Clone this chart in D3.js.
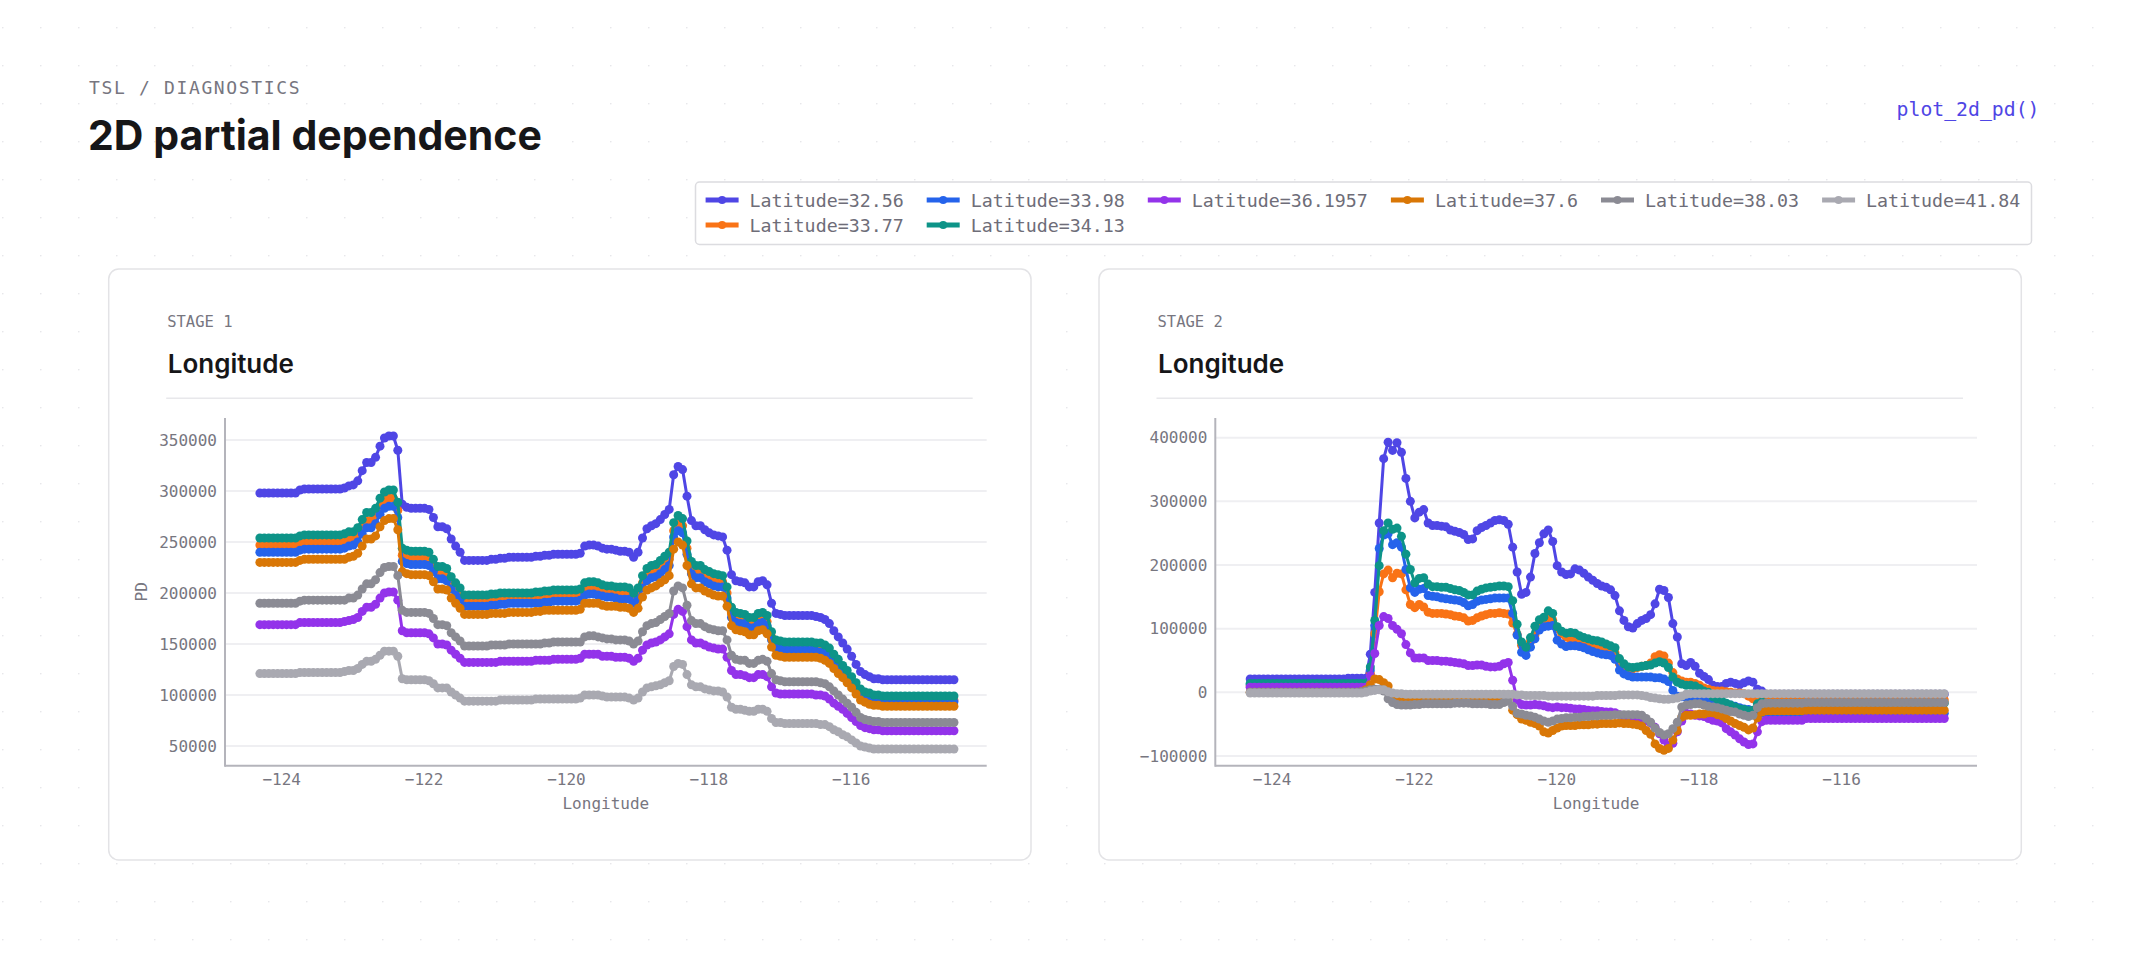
<!DOCTYPE html>
<html><head><meta charset="utf-8">
<script src="https://cdn.jsdelivr.net/npm/d3@7"></script>
<style>html,body{margin:0;padding:0;background:#fff;}svg{display:block;}</style>
</head><body>
<svg id="chart" width="2130" height="959"></svg>
<script>
// ---------------- DATA ----------------
const longitude = [-124.3,-124.2375,-124.175,-124.1125,-124.05,-123.9875,-123.925,-123.8625,-123.8,-123.7375,
-123.675,-123.6125,-123.55,-123.4875,-123.425,-123.3625,-123.3,-123.2375,-123.175,-123.1125,
-123.05,-122.9875,-122.925,-122.8625,-122.8,-122.7375,-122.675,-122.6125,-122.55,-122.4875,
-122.425,-122.3625,-122.3,-122.2375,-122.175,-122.1125,-122.05,-121.9875,-121.925,-121.8625,
-121.8,-121.7375,-121.675,-121.6125,-121.55,-121.4875,-121.425,-121.3625,-121.3,-121.2375,
-121.175,-121.1125,-121.05,-120.9875,-120.925,-120.8625,-120.8,-120.7375,-120.675,-120.6125,
-120.55,-120.4875,-120.425,-120.3625,-120.3,-120.2375,-120.175,-120.1125,-120.05,-119.9875,
-119.925,-119.8625,-119.8,-119.7375,-119.675,-119.6125,-119.55,-119.4875,-119.425,-119.3625,
-119.3,-119.2375,-119.175,-119.1125,-119.05,-118.9875,-118.925,-118.8625,-118.8,-118.7375,
-118.675,-118.6125,-118.55,-118.4875,-118.425,-118.3625,-118.3,-118.2375,-118.175,-118.1125,
-118.05,-117.9875,-117.925,-117.8625,-117.8,-117.7375,-117.675,-117.6125,-117.55,-117.4875,
-117.425,-117.3625,-117.3,-117.2375,-117.175,-117.1125,-117.05,-116.9875,-116.925,-116.8625,
-116.8,-116.7375,-116.675,-116.6125,-116.55,-116.4875,-116.425,-116.3625,-116.3,-116.2375,
-116.175,-116.1125,-116.05,-115.9875,-115.925,-115.8625,-115.8,-115.7375,-115.675,-115.6125,
-115.55,-115.4875,-115.425,-115.3625,-115.3,-115.2375,-115.175,-115.1125,-115.05,-114.9875,
-114.925,-114.8625,-114.8,-114.7375,-114.675,-114.6125,-114.55];

const latitudes = ["32.56","33.77","33.98","34.13","36.1957","37.6","38.03","41.84"];
const stageLabels = ["STAGE 1","STAGE 2"];
const xTicks = [-124,-122,-120,-118,-116];
const yTicksStage1 = [50000,100000,150000,200000,250000,300000,350000];
const yTicksStage2 = [-100000,0,100000,200000,300000,400000];
const legendRows = [["32.56","33.98","36.1957","37.6","38.03","41.84"],["33.77","34.13"]];
const PD_UNIT = 1000; // PD values below are given in thousands

// Stage 1 PD (thousands) per latitude
const s1_lat32_56 = [298,298,298,298,298,298,298,298,298,301,
302,302,302,302,302,302,302,302,302,303,
305,306,310,320,328,328,333,344,352,354,
354,340,287,284,283,283,283,283,282,274,
265,265,263,253,246,240,232,232,232,232,
232,232,233,233,234,234,235,235,235,235,
235,235,236,236,237,237,238,238,238,238,
238,238,239,246,247,247,246,244,243,243,
242,241,241,240,235,240,254,263,266,268,
272,277,282,316,324,321,295,271,266,266,
262,259,257,256,255,242,218,212,211,210,
206,206,211,212,208,190,180,179,178,178,
178,178,178,178,178,177,176,174,170,163,
157,151,145,138,130,123,120,118,116,116,
115,115,115,115,115,115,115,115,115,115,
115,115,115,115,115,115,115];
const s1_lat33_77 = [247,247,247,247,247,247,247,247,247,249,
250,250,250,250,250,250,250,250,250,251,
252,253,256,265,271,271,276,285,291,293,
293,281,237,235,234,234,234,234,233,227,
219,219,218,209,203,199,192,192,192,192,
192,192,193,193,194,194,194,194,194,194,
194,194,195,195,196,196,197,197,197,197,
197,197,198,203,204,204,203,202,201,201,
200,199,199,199,194,199,210,218,220,222,
225,229,233,261,268,266,244,224,220,220,
217,214,213,212,211,200,180,175,175,174,
170,170,175,175,172,157,149,148,147,147,
147,147,147,147,147,146,146,144,141,135,
130,125,120,114,107,102,99,97,96,96,
95,95,95,95,95,95,95,95,95,95,
95,95,95,95,95,95,95];
const s1_lat33_98 = [240,240,240,240,240,240,240,240,240,242,
243,243,243,243,243,243,243,243,243,244,
246,247,250,258,264,264,268,277,283,285,
285,274,231,229,228,228,228,228,227,221,
214,214,212,204,198,194,187,187,187,187,
187,187,188,188,189,189,190,190,190,190,
190,190,190,190,191,191,192,192,192,192,
192,192,193,198,199,199,198,197,196,196,
195,194,194,194,190,194,205,212,215,216,
219,223,227,255,261,259,238,219,215,215,
211,209,207,206,206,195,176,171,170,170,
166,166,170,171,168,154,146,145,144,144,
144,144,144,144,144,143,142,141,138,132,
127,122,118,112,106,100,98,96,94,94,
93.5,93.5,93.5,93.5,93.5,93.5,93.5,93.5,93.5,93.5,
93.5,93.5,93.5,93.5,93.5,93.5,93.5];
const s1_lat34_13 = [254,254,254,254,254,254,254,254,254,256,
257,257,257,257,257,257,257,257,257,258,
260,260,264,272,279,279,283,293,299,301,
301,289,244,242,241,241,241,241,240,233,
226,226,224,216,210,205,198,198,198,198,
198,198,199,199,200,200,200,200,200,200,
200,200,201,201,202,202,203,203,203,203,
203,203,204,210,211,211,210,208,207,207,
206,206,206,205,200,205,217,224,227,228,
232,236,240,269,276,273,251,231,227,227,
223,221,219,218,217,206,186,181,180,179,
176,176,180,181,178,162,154,153,152,152,
152,152,152,152,152,151,151,149,146,140,
135,129,124,118,112,106,103,102,100,100,
99,99,99,99,99,99,99,99,99,99,
99,99,99,99,99,99,99];
const s1_lat36_1957 = [169,169,169,169,169,169,169,169,169,171,
171,171,171,171,171,171,171,171,171,172,
173,174,176,182,186,186,189,195,200,201,
201,193,163,161,161,161,161,161,160,156,
150,150,149,144,140,136,132,132,132,132,
132,132,132,132,133,133,133,133,133,133,
133,133,134,134,134,134,135,135,135,135,
135,135,136,140,140,140,140,138,138,138,
137,137,137,136,133,136,144,149,151,152,
154,157,160,179,184,182,167,154,151,151,
149,147,146,145,145,137,124,120,120,119,
117,117,120,120,118,108,102,101,101,101,
101,101,101,101,101,100,100,99,96,92,
89,86,82,78,74,70,68,67,66,66,
65,65,65,65,65,65,65,65,65,65,
65,65,65,65,65,65,65];
const s1_lat37_6 = [230,230,230,230,230,230,230,230,230,232,
233,233,233,233,233,233,233,233,233,233,
235,236,239,246,253,253,256,265,271,273,
273,262,221,219,218,218,218,218,217,211,
204,204,203,195,190,185,179,179,179,179,
179,179,180,180,180,180,181,181,181,181,
181,181,182,182,183,183,183,183,183,183,
183,183,184,190,190,190,190,188,187,187,
187,186,186,185,181,185,196,203,205,207,
210,213,217,243,250,247,227,209,205,205,
202,200,198,197,197,187,168,164,163,162,
159,159,163,164,160,147,139,138,137,137,
137,137,137,137,137,137,136,134,131,126,
121,117,112,107,101,95,93,91,90,90,
89,89,89,89,89,89,89,89,89,89,
89,89,89,89,89,89,89];
const s1_lat38_03 = [190,190,190,190,190,190,190,190,190,192,
193,193,193,193,193,193,193,193,193,193,
195,195,198,204,209,209,213,220,225,226,
226,217,183,181,181,181,181,181,180,175,
169,169,168,161,157,153,148,148,148,148,
148,148,149,149,149,149,150,150,150,150,
150,150,150,150,151,151,152,152,152,152,
152,152,152,157,158,158,157,156,155,155,
154,154,154,153,150,153,162,168,170,171,
174,177,180,202,207,205,188,173,170,170,
167,165,164,163,163,154,139,135,134,134,
131,131,134,135,133,121,115,114,113,113,
113,113,113,113,113,113,112,111,108,104,
100,96,92,88,83,78,76,75,74,74,
73,73,73,73,73,73,73,73,73,73,
73,73,73,73,73,73,73];
const s1_lat41_84 = [121,121,121,121,121,121,121,121,121,122,
122,122,122,122,122,122,122,122,122,123,
124,124,126,130,133,133,135,139,143,143,
143,138,116,115,115,115,115,115,114,111,
107,107,107,103,100,97,94,94,94,94,
94,94,94,94,95,95,95,95,95,95,
95,95,96,96,96,96,96,96,96,96,
96,96,97,100,100,100,100,99,98,98,
98,98,98,97,95,97,103,107,108,109,
110,112,114,128,131,130,120,110,108,108,
106,105,104,104,103,98,88,86,86,85,
84,84,86,86,84,77,73,73,72,72,
72,72,72,72,72,72,71,71,69,66,
64,61,59,56,53,50,49,48,47,47,
47,47,47,47,47,47,47,47,47,47,
47,47,47,47,47,47,47];

// Stage 2 PD (thousands) per latitude
const s2_lat32_56 = [21,21,21,21,21,21,21,21,21,21,
21,21,21,21,21,21,21,21,21,21,
21,21,22,22,22,22,22,60,157,266,
367,393,380,392,377,336,300,274,283,287,
266,262,262,261,260,255,253,251,248,240,
241,254,259,262,266,270,271,270,264,228,
189,154,157,181,218,235,249,255,237,199,
189,185,186,194,192,187,181,176,171,167,
165,161,152,128,113,103,101,108,113,116,
122,139,162,160,149,108,87,45,42,47,
41,30,25,20,11,9,9,14,16,14,
12,15,18,16,5,2,-3,-3,-3,-3,
-3,-3,-3,-3,-3,-3,-3,-3,-3,-3,
-3,-3,-3,-3,-3,-3,-3,-3,-3,-3,
-3,-3,-3,-3,-3,-3,-3,-3,-3,-3,
-3,-3,-3,-3,-3,-3,-3];
const s2_lat33_77 = [10,10,10,10,10,10,10,10,10,10,
10,10,10,10,10,10,10,10,10,10,
10,10,10,10,10,10,10,30,92,158,
186,192,180,187,186,161,138,133,138,134,
126,124,124,124,123,122,120,119,117,112,
113,117,120,122,124,124,125,124,123,109,
91,74,70,80,90,105,112,115,113,100,
92,87,83,81,80,78,74,72,72,70,
68,65,62,45,40,37,37,39,41,42,
46,56,59,57,46,31,21,18,16,16,
14,11,7,5,3,2,2,1,0,-1,
-1,-2,-6,-10,-13,-12,-12,-12,-12,-12,
-12,-12,-12,-12,-12,-12,-12,-12,-12,-12,
-12,-12,-12,-12,-12,-12,-12,-12,-12,-12,
-12,-12,-12,-12,-12,-12,-12,-12,-12,-12,
-12,-12,-12,-12,-12,-12,-12];
const s2_lat33_98 = [12,12,12,12,12,12,12,12,12,12,
12,12,12,12,12,12,12,12,12,12,
12,12,12,12,12,12,12,35,105,226,
247,249,232,235,228,193,164,157,162,163,
152,151,150,148,147,146,145,144,141,136,
138,143,145,146,147,148,148,148,148,124,
90,63,58,71,84,98,103,104,105,82,
76,72,73,73,72,70,67,64,62,60,
59,58,52,35,29,26,24,24,24,24,
24,23,23,21,17,3,-6,-7,-8,-9,
-10,-11,-12,-13,-14,-15,-16,-18,-20,-22,
-24,-26,-27,-30,-33,-33,-33,-33,-33,-33,
-33,-33,-33,-33,-33,-33,-33,-33,-33,-33,
-33,-33,-33,-33,-33,-33,-33,-33,-33,-33,
-33,-33,-33,-33,-33,-33,-33,-33,-33,-33,
-33,-33,-33,-33,-33,-33,-33];
const s2_lat34_13 = [14,14,14,14,14,14,14,14,14,14,
14,14,14,14,14,14,14,14,14,14,
14,14,14,14,14,14,14,40,113,199,
254,266,256,258,245,217,193,172,179,180,
170,166,166,165,165,163,161,160,157,153,
153,159,162,164,165,166,167,167,166,144,
107,79,71,86,104,114,118,128,124,103,
96,93,94,93,89,86,84,82,81,79,
76,73,70,53,45,40,39,40,41,42,
43,46,48,46,39,24,16,13,11,11,
10,6,2,0,-7,-11,-13,-17,-20,-23,
-26,-27,-29,-28,-18,-15,-17,-17,-17,-17,
-17,-17,-17,-17,-17,-17,-17,-17,-17,-17,
-17,-17,-17,-17,-17,-17,-17,-17,-17,-17,
-17,-17,-17,-17,-17,-17,-17,-17,-17,-17,
-17,-17,-17,-17,-17,-17,-17];
const s2_lat36_1957 = [8,8,8,8,8,8,8,8,8,8,
8,8,8,8,8,8,8,8,8,8,
8,8,8,8,8,8,8,26,61,105,
119,116,105,99,92,75,62,54,54,54,
50,50,50,49,49,48,47,46,45,42,
42,43,43,41,40,40,41,45,47,19,
-12,-19,-20,-20,-19,-20,-21,-23,-24,-23,
-24,-24,-25,-26,-26,-27,-28,-29,-29,-30,
-31,-31,-32,-35,-39,-40,-41,-42,-44,-45,
-48,-55,-65,-75,-83,-80,-62,-45,-33,-34,
-36,-37,-38,-41,-44,-45,-48,-57,-62,-67,
-73,-78,-82,-81,-62,-46,-44,-44,-44,-44,
-44,-44,-44,-44,-44,-41,-41,-41,-41,-41,
-41,-41,-41,-41,-41,-41,-41,-41,-41,-41,
-41,-41,-41,-41,-41,-41,-41,-41,-41,-41,
-41,-41,-41,-41,-41,-41,-41];
const s2_lat37_6 = [0,0,0,0,0,0,0,0,0,0,
0,0,0,0,0,0,0,0,0,0,
0,0,0,0,0,1,4,12,21,20,
15,10,-6,-9,-10,-11,-11,-11,-11,-11,
-11,-11,-11,-11,-11,-11,-11,-11,-11,-11,
-11,-11,-11,-11,-11,-11,-11,-11,-10,-28,
-35,-42,-44,-47,-49,-53,-62,-64,-60,-56,
-53,-52,-52,-52,-51,-51,-51,-50,-50,-49,
-49,-49,-49,-48,-49,-49,-50,-51,-53,-60,
-66,-81,-88,-91,-88,-75,-60,-39,-36,-36,
-35,-34,-34,-32,-32,-35,-37,-41,-45,-49,
-52,-55,-59,-56,-40,-31,-29,-29,-29,-29,
-29,-29,-29,-29,-29,-28,-28,-28,-28,-28,
-28,-28,-28,-28,-28,-28,-28,-28,-28,-28,
-28,-28,-28,-28,-28,-28,-28,-28,-28,-28,
-28,-28,-28,-28,-28,-28,-28];
const s2_lat38_03 = [0,0,0,0,0,0,0,0,0,0,
0,0,0,0,0,0,0,0,0,0,
0,0,0,0,0,1,2,4,5,5,
2,-10,-16,-19,-20,-20,-20,-19,-19,-18,
-18,-18,-18,-18,-18,-18,-17,-17,-17,-17,
-18,-18,-18,-18,-19,-19,-19,-16,-14,-22,
-33,-34,-36,-37,-39,-42,-45,-47,-45,-42,
-41,-40,-40,-39,-39,-38,-38,-37,-37,-36,
-36,-36,-35,-35,-35,-35,-35,-35,-36,-41,
-47,-56,-63,-67,-65,-57,-47,-23,-20,-19,
-18,-18,-20,-22,-23,-24,-26,-28,-30,-31,
-34,-36,-38,-36,-24,-18,-17,-17,-17,-17,
-17,-17,-17,-17,-17,-16,-16,-16,-16,-16,
-16,-16,-16,-16,-16,-16,-16,-16,-16,-16,
-16,-16,-16,-16,-16,-16,-16,-16,-16,-16,
-16,-16,-16,-16,-16,-16,-16];
const s2_lat41_84 = [-1,-1,-1,-1,-1,-1,-1,-1,-1,-1,
-1,-1,-1,-1,-1,-1,-1,-1,-1,-1,
-1,-1,-1,-1,-1,-1,0,2,3,4,
4,1,-1,-2,-2,-3,-3,-3,-3,-3,
-3,-3,-3,-3,-3,-3,-3,-3,-3,-3,
-3,-3,-3,-3,-3,-3,-3,-3,-3,-3,
-4,-4,-5,-5,-5,-5,-5,-6,-6,-6,
-6,-6,-6,-6,-6,-6,-6,-6,-5,-5,
-5,-5,-5,-4,-4,-4,-4,-4,-5,-6,
-8,-9,-10,-11,-11,-10,-9,-6,-3,-2,
-2,-2,-2,-2,-2,-2,-2,-2,-2,-2,
-2,-2,-2,-2,-2,-2,-2,-2,-2,-2,
-2,-2,-2,-2,-2,-2,-2,-2,-2,-2,
-2,-2,-2,-2,-2,-2,-2,-2,-2,-2,
-2,-2,-2,-2,-2,-2,-2,-2,-2,-2,
-2,-2,-2,-2,-2,-2,-2];

const stage1 = [s1_lat32_56,s1_lat33_77,s1_lat33_98,s1_lat34_13,s1_lat36_1957,s1_lat37_6,s1_lat38_03,s1_lat41_84];
const stage2 = [s2_lat32_56,s2_lat33_77,s2_lat33_98,s2_lat34_13,s2_lat36_1957,s2_lat37_6,s2_lat38_03,s2_lat41_84];
[...stage1, ...stage2].forEach((a,i)=>{ if(a.length!==longitude.length) throw new Error("length mismatch in series "+i+": "+a.length); });

// ---------------- STYLE ----------------
const colors = {"32.56":"#4f46e5","33.77":"#f97316","33.98":"#2563eb","34.13":"#0d9488",
  "36.1957":"#9333ea","37.6":"#d97706","38.03":"#8b8b94","41.84":"#a9a9b1"};
const MONO = "'DejaVu Sans Mono', monospace";
const SANS = "Inter, 'Noto Sans', sans-serif";
const MUTED = "#77767f";

const svg = d3.select("#chart");
const W = 2130, H = 959;
const defs = svg.append("defs");
const pat = defs.append("pattern").attr("id","dots").attr("patternUnits","userSpaceOnUse")
  .attr("width",38).attr("height",38).attr("x",2).attr("y",27);
pat.append("circle").attr("cx",0.8).attr("cy",0.8).attr("r",0.8).attr("fill","#e2e2e6");
svg.append("rect").attr("width",W).attr("height",H).attr("fill","#ffffff");
svg.append("rect").attr("width",W).attr("height",H).attr("fill","url(#dots)");

// header
svg.append("text").attr("x",89).attr("y",93.5).text("TSL / DIAGNOSTICS")
  .attr("font-family",MONO).attr("font-size",18).attr("letter-spacing",1.65).attr("fill",MUTED);
svg.append("text").attr("x",88).attr("y",150).text("2D partial dependence")
  .attr("font-family",SANS).attr("font-weight",700).attr("font-size",41).attr("fill","#161618");
svg.append("text").attr("x",2039.5).attr("y",115.5).attr("text-anchor","end").text("plot_2d_pd()")
  .attr("font-family",MONO).attr("font-size",19.8).attr("fill","#4f46e5");

// legend
const lg = svg.append("g");
lg.append("rect").attr("x",695.5).attr("y",182).attr("width",1336).attr("height",62.5).attr("rx",4)
  .attr("fill","#fff").attr("stroke","#dcdce0").attr("stroke-width",1.5);
const colX = [];
legendRows.forEach((row,ri)=>{
  let x = 705.6;
  const cy = 200 + ri*25;
  row.forEach((lat,ci)=>{
    if (ri>0) x = colX[ci];
    else colX.push(x);
    lg.append("line").attr("x1",x).attr("x2",x+33).attr("y1",cy).attr("y2",cy)
      .attr("stroke",colors[lat]).attr("stroke-width",5);
    lg.append("circle").attr("cx",x+16.5).attr("cy",cy).attr("r",4).attr("fill",colors[lat]);
    const t = lg.append("text").attr("x",x+44).attr("y",cy+7.3).text("Latitude="+lat)
      .attr("font-family",MONO).attr("font-size",18.3).attr("fill","#6e6d78");
    x = x + 44 + t.node().getComputedTextLength() + 23;
  });
});

// panels
const xDomain = [-124.79, -114.09];
function panel(cx, stageLabel, series, yDomain, yTicks, yTitle) {
  const g = svg.append("g");
  g.append("rect").attr("x",cx).attr("y",269).attr("width",922.3).attr("height",591).attr("rx",10)
    .attr("fill","#fff").attr("stroke","#e3e3e6").attr("stroke-width",1.5);
  g.append("text").attr("x",cx+58.5).attr("y",327).text(stageLabel)
    .attr("font-family",MONO).attr("font-size",15.5).attr("fill",MUTED);
  g.append("text").attr("x",cx+59).attr("y",373.3).text("Longitude")
    .attr("font-family",SANS).attr("font-weight",600).attr("font-size",26).attr("fill","#161618");
  g.append("line").attr("x1",cx+57.5).attr("x2",cx+864).attr("y1",398.3).attr("y2",398.3)
    .attr("stroke","#e8e8eb").attr("stroke-width",1.5);

  const x = d3.scaleLinear().domain(xDomain).range([cx+116.3, cx+878]);
  const y = d3.scaleLinear().domain(yDomain).range([765.7, 418]);
  const [x0,x1] = x.range();

  g.append("g").selectAll("line").data(yTicks).enter().append("line")
    .attr("x1",x0).attr("x2",x1).attr("y1",d=>y(d)).attr("y2",d=>y(d))
    .attr("stroke","#efeff2").attr("stroke-width",2);

  const ya = g.append("g").attr("transform",`translate(${x0},0)`)
    .call(d3.axisLeft(y).tickValues(yTicks).tickSize(0).tickPadding(8).tickFormat(d3.format("d")));
  ya.select(".domain").remove();
  ya.selectAll("text").attr("font-family",MONO).attr("font-size",16).attr("fill",MUTED);
  const xa = g.append("g").attr("transform",`translate(0,765.7)`)
    .call(d3.axisBottom(x).tickValues(xTicks).tickSize(0).tickPadding(8).tickFormat(d3.format("d")));
  xa.select(".domain").remove();
  xa.selectAll("text").attr("font-family",MONO).attr("font-size",16).attr("fill",MUTED);

  g.append("line").attr("x1",x0).attr("x2",x0).attr("y1",418).attr("y2",766.7)
    .attr("stroke","#b4b4bb").attr("stroke-width",2);
  g.append("line").attr("x1",x0).attr("x2",x1).attr("y1",765.7).attr("y2",765.7)
    .attr("stroke","#b4b4bb").attr("stroke-width",2);

  g.append("text").attr("x",(x0+x1)/2).attr("y",809).attr("text-anchor","middle").text("Longitude")
    .attr("font-family",MONO).attr("font-size",16).attr("fill",MUTED);
  if (yTitle) {
    g.append("text").attr("transform",`translate(${cx+38},${(418+765.7)/2}) rotate(-90)`)
      .attr("text-anchor","middle").text(yTitle)
      .attr("font-family",MONO).attr("font-size",16).attr("fill",MUTED);
  }

  const line = d3.line().x(d=>x(d[0])).y(d=>y(d[1]));
  series.forEach((vals,i)=>{
    const lat = latitudes[i];
    const pts = longitude.map((lon,j)=>[lon, vals[j]*PD_UNIT]);
    const sg = g.append("g");
    sg.append("path").datum(pts).attr("d",line).attr("fill","none")
      .attr("stroke",colors[lat]).attr("stroke-width",3).attr("stroke-linejoin","round");
    sg.selectAll("circle").data(pts).enter().append("circle")
      .attr("cx",d=>x(d[0])).attr("cy",d=>y(d[1])).attr("r",4.5).attr("fill",colors[lat]);
  });
}
panel(108.7, stageLabels[0], stage1, [30700, 371600], yTicksStage1, "PD");
panel(1099, stageLabels[1], stage2, [-115200, 430900], yTicksStage2, null);
</script>
</body></html>
